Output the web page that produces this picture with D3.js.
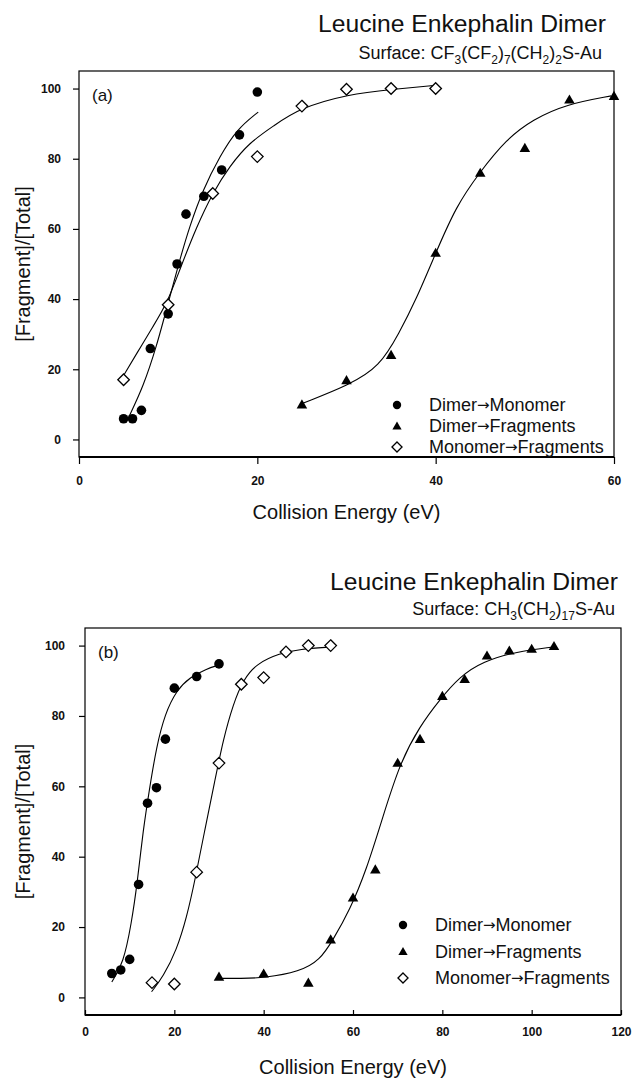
<!DOCTYPE html>
<html>
<head>
<meta charset="utf-8">
<script src="https://cdn.jsdelivr.net/npm/d3@7"></script>
<style>
    body { margin: 0; background: #fff; }
    svg text { font-family: "Liberation Sans", Arial, sans-serif; fill: #111; }
</style>
</head>
<body>
<div id="screen"></div>
<script>

// panel (a) : surface CF3(CF2)7(CH2)2S-Au
var energyA_dimerMonomer = [5, 6, 7, 8, 10, 11, 12, 14, 16, 18, 20];
var valueA_dimerMonomer = [5.9, 5.9, 8.3, 25.9, 35.8, 50, 64.2, 69.3, 76.8, 86.8, 99.0];
var energyA_dimerFragments = [25, 30, 35, 40, 45, 50, 55, 60];
var valueA_dimerFragments = [10, 16.9, 24.1, 53.2, 76, 83.1, 96.9, 97.9];
var energyA_monomerFragments = [5, 10, 15, 20, 25, 30, 35, 40];
var valueA_monomerFragments = [17, 38.4, 70.1, 80.6, 95, 99.8, 100, 100];

// fitted curves
var fitA_dimerMonomer_x = [5.6, 7.2, 8.7, 10.0, 11.3, 12.4, 13.9, 15.8, 17.7, 20.1];
var fitA_dimerMonomer_y = [6.5, 15, 26.5, 38.9, 51.2, 60.7, 71.2, 80.7, 88.4, 93.3];
var fitA_dimerFragments_x = [25.1, 30.3, 33.7, 35.9, 37.8, 40.0, 42.3, 44.9, 47.9, 50.9, 54.6, 59.7];
var fitA_dimerFragments_y = [10.3, 15.5, 20.7, 30.3, 39.8, 53.1, 66.5, 76, 85.5, 91.2, 95.5, 97.9];
var fitA_monomerFragments_x = [4.8, 6.5, 8.3, 9.9, 11.3, 13.2, 15.0, 16.9, 19.1, 21.8, 24.7, 30.2, 35.1, 40.0];
var fitA_monomerFragments_y = [17.4, 24.6, 32.2, 38.9, 48.4, 60.7, 70.3, 77.9, 84.6, 89.3, 94.4, 98.4, 99.8, 100.9];

// panel (b) : surface CH3(CH2)17S-Au
var energyB_dimerMonomer = [6, 8, 10, 12, 14, 16, 18, 20, 25, 30];
var valueB_dimerMonomer = [6.8, 7.8, 10.8, 32.1, 55.2, 59.6, 73.4, 87.9, 91.2, 94.8];
var energyB_dimerFragments = [30, 40, 50, 55, 60, 65, 70, 75, 80, 85, 90, 95, 100, 105];
var valueB_dimerFragments = [5.9, 6.8, 4.2, 16.5, 28.4, 36.4, 66.7, 73.5, 85.7, 90.5, 97.2, 98.6, 99.1, 99.9];
var energyB_monomerFragments = [15, 20, 25, 30, 35, 40, 45, 50, 55];
var valueB_monomerFragments = [4.2, 3.8, 35.6, 66.6, 89.0, 90.9, 98.2, 100, 100];

var fitB_dimerMonomer_x = [6.0, 8.6, 10.4, 11.7, 13.0, 14.5, 16.0, 17.9, 20.5, 23.5, 27.2, 29.8];
var fitB_dimerMonomer_y = [4.4, 9.7, 21.1, 32.4, 47.5, 59.8, 71.2, 80.6, 87.3, 91.0, 93.4, 94.4];
var fitB_dimerFragments_x = [29.5, 35, 40, 48.1, 52.6, 55.5, 59.3, 63.0, 66.7, 70.5, 74.9, 79.4, 83.9, 89.1, 96.6, 104.8];
var fitB_dimerFragments_y = [5.4, 5.4, 5.5, 7.3, 10.6, 16.3, 24.9, 36.2, 51.4, 66.6, 77, 84.6, 91.2, 95.5, 98.3, 99.6];
var fitB_monomerFragments_x = [14.9, 17.5, 20.5, 22.8, 24.6, 26.8, 29.1, 30.9, 33.2, 35.4, 38.4, 43.6, 48.1, 55.0];
var fitB_monomerFragments_y = [1.6, 5.9, 13.4, 22.9, 33.2, 47.5, 61.7, 73.1, 83.5, 90.2, 94.9, 97.8, 99.0, 99.6];

// axis ticks and labels
var yTicks = [0, 20, 40, 60, 80, 100];
var xTicksA = [0, 20, 40, 60];
var xTicksB = [0, 20, 40, 60, 80, 100, 120];
// [from, to] of each legend entry
var seriesNames = [["Dimer", "Monomer"], ["Dimer", "Fragments"], ["Monomer", "Fragments"]];
var seriesKinds = ["circle", "triangle", "diamond"];
var titleText = "Leucine Enkephalin Dimer";
// [text, isSubscript]
var surfaceA = [["Surface: CF", 0], ["3", 1], ["(CF", 0], ["2", 1], [")", 0], ["7", 1], ["(CH", 0], ["2", 1], [")", 0], ["2", 1], ["S-Au", 0]];
var surfaceB = [["Surface: CH", 0], ["3", 1], ["(CH", 0], ["2", 1], [")", 0], ["17", 1], ["S-Au", 0]];
var xTitle = "Collision Energy (eV)";
var yTitle = "[Fragment]/[Total]";


var svg = d3.select("#screen").append("svg").attr("width", 636).attr("height", 1079);

var markerPath = function(kind, r) {
    if (kind === "triangle") {
        return "M0," + (-r * 1.05) + "L" + (r * 1.1) + "," + (r * 0.85) + "L" + (-r * 1.1) + "," + (r * 0.85) + "Z";
    }
    if (kind === "diamond") {
        return "M0," + (-r * 1.2) + "L" + (r * 1.2) + ",0L0," + (r * 1.2) + "L" + (-r * 1.2) + ",0Z";
    }
    return d3.symbol().type(d3.symbolCircle).size(Math.PI * r * r)();
};

var styleMarker = function(sel, kind) {
    if (kind === "diamond") {
        sel.attr("fill", "#fff").attr("stroke", "#000").attr("stroke-width", 1.3);
    } else {
        sel.attr("fill", "#000").attr("stroke", "none");
    }
};

const buildPanel = function(p) {
    var x = d3.scaleLinear().domain(p.xDomain).range([p.left, p.right]);
    var y = d3.scaleLinear().domain([-5, 105]).range([p.bottom, p.top]);
    var g = svg.append("g");

    // titles
    g.append("text")
        .attr("x", p.titleRight).attr("y", p.titleY)
        .attr("text-anchor", "end").attr("font-size", 23)
        .attr("textLength", 288).attr("lengthAdjust", "spacingAndGlyphs")
        .text(titleText);

    var sub = g.append("text")
        .attr("x", p.subRight).attr("y", p.subY)
        .attr("text-anchor", "end").attr("font-size", 18);
    var shifted = false;
    p.surface.forEach(function(part) {
        var dy = 0;
        if (part[1] && !shifted) { dy = 5; shifted = true; }
        if (!part[1] && shifted) { dy = -5; shifted = false; }
        sub.append("tspan")
            .attr("dy", dy)
            .attr("font-size", part[1] ? 12 : 18)
            .text(part[0]);
    });

    // axes
    var yAxis = d3.axisLeft(y).tickValues(yTicks).tickSize(6).tickPadding(p.yPad);
    var gy = g.append("g").attr("transform", "translate(" + p.left + ",0)").call(yAxis);

    var xAxis = d3.axisBottom(x).tickValues(p.xTicks).tickSize(p.xTickSize).tickPadding(p.xPad);
    var gx = g.append("g").attr("transform", "translate(0," + p.bottom + ")").call(xAxis);

    [gy, gx].forEach(function(a) {
        a.select(".domain").remove();
        a.selectAll(".tick line").attr("stroke", "#000").attr("stroke-width", 1.2);
        a.selectAll(".tick text")
            .attr("font-family", "'Liberation Sans', Arial, sans-serif")
            .attr("font-size", 12).attr("font-weight", "bold").attr("fill", "#111");
    });

    // frame
    g.append("rect")
        .attr("x", p.left).attr("y", p.top)
        .attr("width", p.right - p.left).attr("height", p.bottom - p.top)
        .attr("fill", "none").attr("stroke", "#000").attr("stroke-width", 1.2);
    g.append("line")
        .attr("x1", p.left).attr("x2", p.right)
        .attr("y1", p.bottom).attr("y2", p.bottom)
        .attr("stroke", "#000").attr("stroke-width", 1.8);

    g.append("text")
        .attr("x", p.left + 13).attr("y", p.top + 30)
        .attr("font-size", 17)
        .text(p.label);

    // axis titles
    g.append("text")
        .attr("x", (p.left + p.right) / 2).attr("y", p.xTitleY)
        .attr("text-anchor", "middle").attr("font-size", 20)
        .text(xTitle);
    g.append("text")
        .attr("transform", "translate(" + p.yTitleX + "," + ((p.top + p.bottom) / 2) + ") rotate(-90)")
        .attr("text-anchor", "middle").attr("font-size", 20)
        .text(yTitle);

    // fitted curves
    var line = d3.line()
        .x(d => x(d[0]))
        .y(d => y(d[1]))
        .curve(d3.curveBasis);

    p.series.forEach(function(s) {
        g.append("path")
            .datum(d3.zip(s.fitX, s.fitY))
            .attr("d", line)
            .attr("fill", "none").attr("stroke", "#000").attr("stroke-width", 1.1);
    });

    // data points
    p.series.forEach(function(s) {
        var pts = g.append("g").selectAll("path")
            .data(d3.zip(s.x, s.y))
            .join("path")
            .attr("d", markerPath(s.kind, 4.8))
            .attr("transform", d => "translate(" + x(d[0]) + "," + y(d[1]) + ")");
        styleMarker(pts, s.kind);
    });

    // legend
    var lg = g.append("g");
    seriesNames.forEach(function(name, i) {
        var ly = p.legendY + i * p.legendStep;
        var m = lg.append("path")
            .attr("d", markerPath(seriesKinds[i], 4.2))
            .attr("transform", "translate(" + p.legendX + "," + ly + ")");
        styleMarker(m, seriesKinds[i]);
        var t = lg.append("text")
            .attr("x", p.legendX + 32).attr("y", ly + 6)
            .attr("font-size", 18);
        t.append("tspan").text(name[0]);
        t.append("tspan")
            .attr("font-family", "'DejaVu Sans', sans-serif")
            .attr("font-size", 15).attr("dy", -1)
            .text("\u2192");
        t.append("tspan").attr("dy", 1).text(name[1]);
    });
};

buildPanel({
    xDomain: [0, 60], xTicks: xTicksA,
    left: 79, right: 614, top: 71, bottom: 457,
    titleRight: 606, titleY: 32, subRight: 602, subY: 59, surface: surfaceA,
    yPad: 12, xTickSize: 7, xPad: 12,
    label: "(a)", xTitleY: 519, yTitleX: 30,
    legendX: 397, legendY: 405, legendStep: 21,
    series: [
        {kind: "circle", x: energyA_dimerMonomer, y: valueA_dimerMonomer, fitX: fitA_dimerMonomer_x, fitY: fitA_dimerMonomer_y},
        {kind: "triangle", x: energyA_dimerFragments, y: valueA_dimerFragments, fitX: fitA_dimerFragments_x, fitY: fitA_dimerFragments_y},
        {kind: "diamond", x: energyA_monomerFragments, y: valueA_monomerFragments, fitX: fitA_monomerFragments_x, fitY: fitA_monomerFragments_y}
    ]
});

buildPanel({
    xDomain: [0, 120], xTicks: xTicksB,
    left: 85, right: 621, top: 628, bottom: 1015,
    titleRight: 618, titleY: 590, subRight: 615, subY: 615, surface: surfaceB,
    yPad: 14, xTickSize: -5, xPad: 12,
    label: "(b)", xTitleY: 1074, yTitleX: 30,
    legendX: 403, legendY: 925, legendStep: 26.5,
    series: [
        {kind: "circle", x: energyB_dimerMonomer, y: valueB_dimerMonomer, fitX: fitB_dimerMonomer_x, fitY: fitB_dimerMonomer_y},
        {kind: "triangle", x: energyB_dimerFragments, y: valueB_dimerFragments, fitX: fitB_dimerFragments_x, fitY: fitB_dimerFragments_y},
        {kind: "diamond", x: energyB_monomerFragments, y: valueB_monomerFragments, fitX: fitB_monomerFragments_x, fitY: fitB_monomerFragments_y}
    ]
});

</script>
</body>
</html>
